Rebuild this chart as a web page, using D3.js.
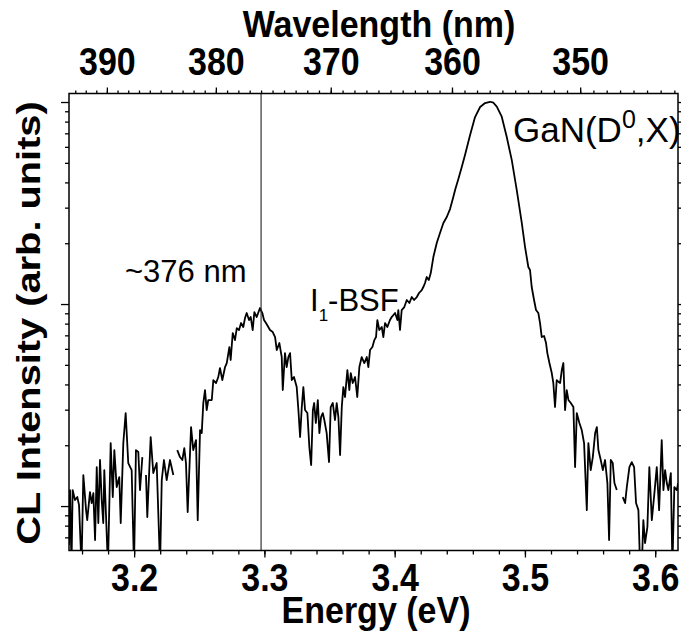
<!DOCTYPE html>
<html>
<head>
<meta charset="utf-8">
<script src="https://cdn.jsdelivr.net/npm/d3@7"></script>
<style>
  html, body { margin: 0; padding: 0; background: #fff; }
  svg { display: block; }
  text { font-family: "Liberation Sans", Arial, Helvetica, sans-serif; fill: #000; }
</style>
</head>
<body>
<svg id="chart" width="681" height="634"></svg>
<script>
// CL spectrum: photon energy (eV) and intensity (arb. units, log scale).
// null marks points that drop out of the log plot (gaps in the trace).
const energy = [
  3.1500,3.1508,3.1519,3.1528,3.1546,3.1564,3.1577,3.1596,3.1610,3.1631,
  3.1640,3.1661,3.1674,3.1687,3.1700,3.1713,3.1725,3.1738,3.1751,3.1763,
  3.1771,3.1799,3.1820,3.1836,3.1848,3.1866,3.1886,3.1897,3.1917,3.1935,
  3.1955,3.1981,3.1999,3.2014,3.2032,3.2045,3.2063,3.2077,3.2091,3.2101,3.2127,
  3.2147,3.2173,3.2199,3.2212,3.2229,3.2250,3.2275,3.2301,3.2316,3.2331,3.2352,
  3.2370,3.2385,3.2398,3.2411,3.2437,3.2454,3.2475,3.2488,3.2506,3.2519,
  3.2531,3.2544,3.2557,3.2569,3.2596,3.2608,3.2629,3.2646,3.2659,3.2677,
  3.2698,3.2711,3.2731,3.2741,3.2757,3.2774,3.2788,3.2805,3.2821,3.2838,
  3.2851,3.2864,3.2882,3.2895,3.2910,3.2923,3.2941,3.2966,3.2984,3.2997,
  3.3012,3.3030,3.3043,3.3064,3.3082,3.3095,3.3115,3.3133,3.3141,3.3158,
  3.3171,3.3184,3.3197,3.3210,3.3227,3.3248,3.3261,3.3274,3.3287,3.3299,
  3.3312,3.3330,3.3345,3.3359,3.3372,3.3382,3.3395,3.3410,3.3422,3.3435,
  3.3448,3.3460,3.3478,3.3496,3.3509,3.3525,3.3542,3.3555,3.3568,3.3581,
  3.3594,3.3606,3.3619,3.3637,3.3652,3.3663,3.3678,3.3696,3.3713,3.3729,
  3.3747,3.3767,3.3786,3.3798,3.3811,3.3829,3.3844,3.3857,3.3867,3.3882,
  3.3901,3.3913,3.3926,3.3944,3.3964,3.3977,3.4003,3.4021,3.4028,3.4041,
  3.4054,3.4074,3.4093,3.4113,3.4131,3.4149,3.4170,3.4187,3.4208,3.4220,
  3.4233,3.4246,3.4262,3.4277,3.4297,3.4323,3.4348,3.4374,3.4400,3.4425,
  3.4446,3.4466,3.4489,3.4515,3.4540,3.4579,3.4617,3.4656,3.4694,3.4732,
  3.4758,3.4784,3.4822,3.4860,3.4899,3.4937,3.4976,3.5001,3.5026,3.5039,
  3.5052,3.5070,3.5085,3.5103,3.5116,3.5129,3.5147,3.5162,3.5172,3.5188,
  3.5206,3.5218,3.5231,3.5244,3.5260,3.5270,3.5283,3.5295,3.5308,3.5321,
  3.5334,3.5352,3.5372,3.5385,3.5398,3.5418,3.5436,3.5454,3.5475,3.5487,
  3.5505,3.5521,3.5539,3.5552,3.5564,3.5582,3.5598,3.5615,3.5633,3.5646,
  3.5659,3.5674,3.5687,3.5705,3.5728,3.5751,3.5769,3.5782,3.5802,3.5820,
  3.5838,3.5853,3.5871,3.5884,3.5897,3.5909,3.5922,3.5940,3.5955,3.5974,
  3.5991,3.6012,3.6030,3.6050,3.6063,3.6076,3.6089,3.6101,3.6120,3.6132,
  3.6147,3.6166,3.6176
];
const intensity = [
  0.641,1.20,0.5,1.20,1.071,1.108,1.01,0.5,1.424,0.955,
  0.852,1.173,1.035,1.160,0.679,1.560,0.824,1.690,1.071,0.824,
  1.507,0.5,2.051,1.108,1.893,1.242,1.392,0.824,2.051,2.886,
  1.633,1.507,0.5,1.893,1.851,1.200,1.748,null,1.424,0.882,2.196,
  1.457,1.633,0.5,1.345,1.690,1.345,1.690,1.424,null,1.893,1.748,
  1.690,1.937,1.633,0.934,2.461,1.893,2.122,0.852,2.378,2.298,
  3.236,3.752,2.987,3.348,3.348,4.205,4.064,4.351,4.822,4.205,
  4.877,5.105,6.125,5.283,7.185,6.632,7.606,7.435,8.053,7.694,
  8.523,9.025,8.333,8.622,7.435,9.129,8.622,9.555,9.025,8.333,
  8.053,7.694,7.435,7.268,6.865,5.920,6.412,5.465,3.752,5.719,
  4.877,5.465,5.719,4.205,4.351,3.881,2.987,2.196,3.091,3.881,
  2.987,2.886,1.959,1.596,2.987,3.236,2.576,3.348,2.298,2.758,
  2.886,2.666,2.298,1.651,3.091,3.236,2.666,3.236,2.758,1.788,
  3.091,3.881,3.465,4.713,3.752,4.554,4.064,4.351,3.465,4.877,
  5.465,5.105,5.465,4.877,5.920,6.125,6.632,6.865,8.333,7.435,
  7.694,6.865,8.053,7.694,8.333,8.622,9.025,8.333,9.339,7.435,
  9.339,9.663,10.47,10.12,10.83,10.47,10.83,11.34,11.73,12.14,
  12.71,13.61,13.15,14.24,17.09,20.05,22.46,25.18,26.96,29.53,
  33.10,37.10,41.57,47.68,54.65,68.64,84.26,94.46,98.86,100.3,
  99.2,94.8,84.6,67.3,51.6,36.7,25.18,19.15,15.25,14.74,
  12.14,10.47,9.339,9.025,8.053,6.865,6.944,6.412,5.719,5.105,
  4.554,4.064,3.091,4.205,4.111,4.064,4.713,5.105,2.987,3.752,
  3.348,3.236,3.091,1.560,2.886,2.576,2.378,2.051,0.955,2.051,
  1.507,1.748,2.298,2.461,1.893,1.690,1.507,1.690,1.300,0.679,
  1.690,1.633,1.300,1.200,null,1.108,1.035,1.242,1.560,1.651,
  1.560,1.035,0.955,0.5,0.5,0.852,0.656,0.787,1.560,0.852,
  1.108,1.560,0.955,2.122,1.200,1.507,1.300,1.200,1.457,0.5,
  1.242,1.200,1.300
];

const energyTicks = [3.2, 3.3, 3.4, 3.5, 3.6];
const energyMinorTicks = d3.range(3.16, 3.6101, 0.02);
const wavelengthTicks = [390, 380, 370, 360, 350];
const wavelengthMinorTicks = d3.range(343, 394, 1);
const intensityMajorTicks = [1, 10, 100];
const intensityMinorTicks = [0.7, 0.8, 0.9, 2, 3, 4, 5, 6, 7, 8, 9, 20, 30, 40, 50, 60, 70, 80, 90];
const markerWavelength = 376;
const HC = 1239.84; // eV·nm

const energyDomain = [3.15, 3.6175];
const intensityDomain = [0.6026, 110.2];

const plot = { left: 69, right: 678, top: 93.5, bottom: 550.5 };
const TEXT_STRETCH = 1.12;

const svg = d3.select("#chart");

const x = d3.scaleLinear().domain(energyDomain).range([plot.left, plot.right]);
const y = d3.scaleLog().domain(intensityDomain).range([plot.bottom, plot.top]);

svg.append("defs").append("clipPath").attr("id", "plot-clip")
  .append("rect")
  .attr("x", plot.left).attr("y", plot.top)
  .attr("width", plot.right - plot.left).attr("height", plot.bottom - plot.top);

// spectrum
const points = energy.map((e, i) => ({ e, v: intensity[i] }));
const line = d3.line()
  .defined(d => d.v != null)
  .x(d => x(d.e))
  .y(d => y(d.v));

svg.append("path")
  .datum(points)
  .attr("clip-path", "url(#plot-clip)")
  .attr("fill", "none")
  .attr("stroke", "#000")
  .attr("stroke-width", 1.8)
  .attr("stroke-linejoin", "round")
  .attr("d", line);

// 376 nm marker
const eMark = HC / markerWavelength;
svg.append("line")
  .attr("x1", x(eMark)).attr("x2", x(eMark))
  .attr("y1", plot.top).attr("y2", plot.bottom)
  .attr("stroke", "#222").attr("stroke-width", 1.1);

// axes
function styleAxis(g) {
  g.select(".domain").remove();
  g.selectAll(".tick line").attr("stroke", "#000").attr("stroke-width", 1.3);
}

function stretchLabels(g, offset) {
  g.selectAll(".tick text")
    .attr("y", null).attr("dy", null)
    .attr("transform", `translate(0,${offset}) scale(1,${TEXT_STRETCH})`)
    .style("font-size", "34px").style("font-weight", "bold")
    .attr("fill", "#000");
}

// bottom: energy
svg.append("g").attr("transform", `translate(0,${plot.bottom})`)
  .call(d3.axisBottom(x).tickValues(energyMinorTicks).tickSize(4).tickFormat(""))
  .call(styleAxis);
svg.append("g").attr("transform", `translate(0,${plot.bottom})`)
  .call(d3.axisBottom(x).tickValues(energyTicks).tickSize(7).tickFormat(d3.format(".1f")))
  .call(styleAxis)
  .call(g => stretchLabels(g, 40.5));

// top: wavelength
svg.append("g").attr("transform", `translate(0,${plot.top})`)
  .call(d3.axisTop(x).tickValues(wavelengthMinorTicks.map(w => HC / w)).tickSize(3).tickFormat(""))
  .call(styleAxis);
svg.append("g").attr("transform", `translate(0,${plot.top})`)
  .call(d3.axisTop(x).tickValues(wavelengthTicks.map(w => HC / w)).tickSize(6)
    .tickFormat(e => String(Math.round(HC / e))))
  .call(styleAxis)
  .call(g => stretchLabels(g, -19));

// left / right: intensity
[[d3.axisLeft, plot.left], [d3.axisRight, plot.right]].forEach(([axisFn, pos]) => {
  svg.append("g").attr("transform", `translate(${pos},0)`)
    .call(axisFn(y).tickValues(intensityMinorTicks).tickSize(4).tickFormat(""))
    .call(styleAxis);
  svg.append("g").attr("transform", `translate(${pos},0)`)
    .call(axisFn(y).tickValues(intensityMajorTicks).tickSize(8).tickFormat(""))
    .call(styleAxis);
});

// frame
svg.append("rect")
  .attr("x", plot.left).attr("y", plot.top)
  .attr("width", plot.right - plot.left).attr("height", plot.bottom - plot.top)
  .attr("fill", "none").attr("stroke", "#000").attr("stroke-width", 1.5);

// axis titles
function title(txt, tx, ty, rotate, stretch) {
  const g = svg.append("g").attr("transform",
    rotate ? `translate(${tx},${ty}) rotate(-90) scale(${stretch},1)`
           : `translate(${tx},${ty}) scale(1,${stretch})`);
  g.append("text").attr("text-anchor", "middle")
    .style("font-size", "34px").style("font-weight", "bold").text(txt);
}
title("Energy (eV)", 376, 623, false, 1.1);
title("Wavelength (nm)", 379, 37, false, 1.1);
title("CL Intensity (arb. units)", 39.5, 323, true, 1.17);

// peak annotations
function note(tx, ty, size, parts) {
  const t = svg.append("text").attr("x", tx).attr("y", ty).style("font-size", size + "px");
  parts.forEach(p => {
    const s = t.append("tspan").text(p.t);
    if (p.sub) s.attr("baseline-shift", "sub").style("font-size", Math.round(size * 0.55) + "px");
    if (p.sup) s.attr("baseline-shift", "super").style("font-size", Math.round(size * 0.72) + "px");
  });
}
note(125, 282, 31, [{ t: "~376 nm" }]);
note(310, 311, 31, [{ t: "I" }, { t: "1", sub: true }, { t: "-BSF" }]);
note(513, 142, 35, [{ t: "GaN(D" }, { t: "0", sup: true }, { t: ",X)" }]);
</script>
</body>
</html>
